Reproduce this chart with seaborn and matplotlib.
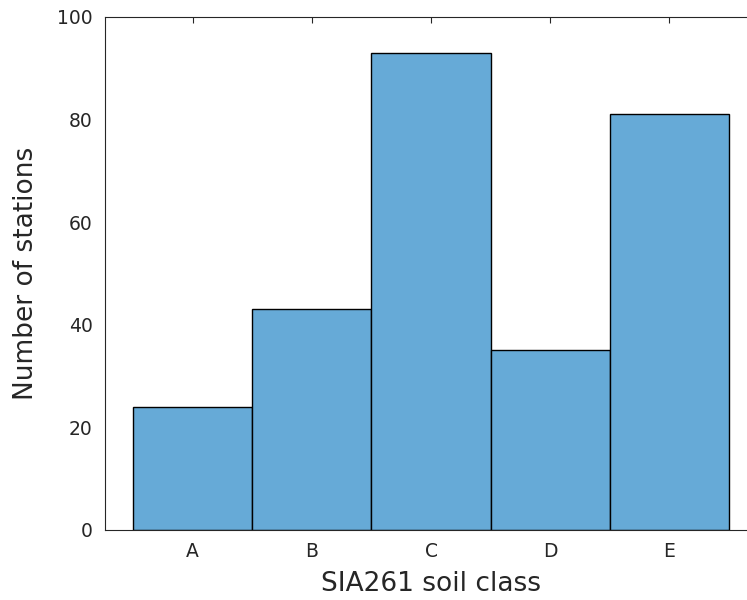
import matplotlib
matplotlib.use("Agg")
import matplotlib.pyplot as plt
import seaborn as sns
import pandas as pd

soil_classes = ["A", "B", "C", "D", "E"]
station_counts = [24, 43, 93, 35, 81]

sns.set_theme(style="white")
plt.rcParams["font.family"] = ["DejaVu Sans"]

df = pd.DataFrame({"soil class": soil_classes, "stations": station_counts})

fig = plt.figure(figsize=(7.47, 6.0), dpi=100)
# axes box extends slightly past the right edge of the canvas
ax = fig.add_axes([0.1406, 0.1167, 0.8728, 0.855])

sns.barplot(data=df, x="soil class", y="stations", color="#66AAD7",
            saturation=1, width=1.0, edgecolor="black", linewidth=1.0, ax=ax)

ax.set_xlim(-0.735, 4.735)
ax.set_ylim(0, 100)
ax.set_yticks([0, 20, 40, 60, 80, 100])
ax.set_xlabel("SIA261 soil class", fontsize=19, color="#262626", labelpad=7)
ax.set_ylabel("Number of stations", fontsize=19, color="#262626", labelpad=13)

ax.tick_params(axis="both", direction="in", length=4, width=0.8,
               labelsize=13.5, labelcolor="#262626", color="#262626",
               top=True, right=True, pad=9)
for side in ["left", "bottom", "top", "right"]:
    ax.spines[side].set_visible(True)
    ax.spines[side].set_color("#262626")
    ax.spines[side].set_linewidth(0.8)

fig.savefig("out.png", dpi=100)
